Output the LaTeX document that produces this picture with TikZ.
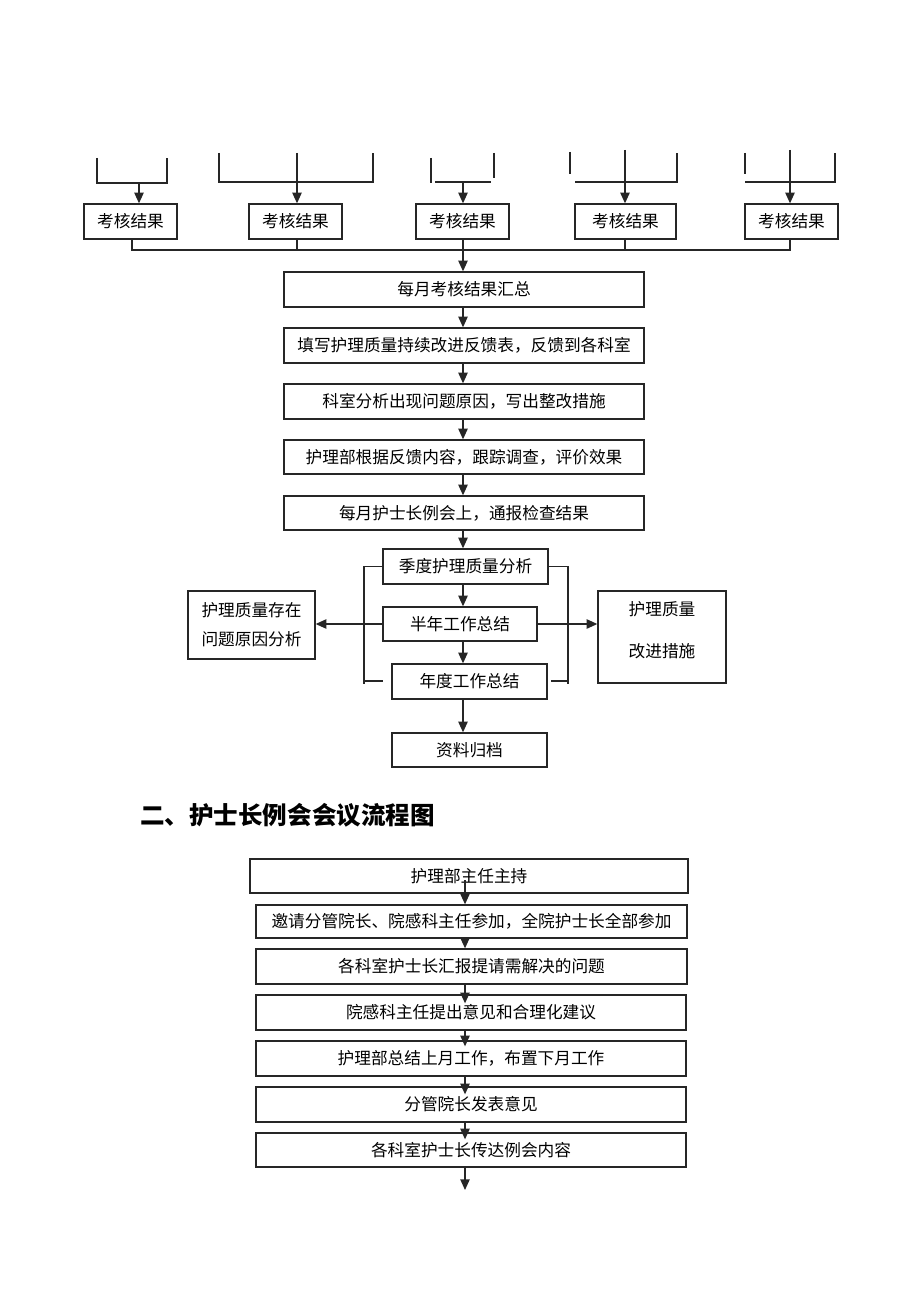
\documentclass[tikz,border=0pt]{standalone}
\usepackage{fontspec}
\setmainfont{Noto Sans CJK SC}
\usetikzlibrary{arrows.meta,calc}
\tikzset{
  ln/.style={draw=black!85, line width=1pt},
  box/.style={ln, inner sep=0pt, align=center, font=\fontsize{12.5pt}{15pt}\selectfont},
  txt/.style={inner sep=0pt, align=center},
  arr/.style={ln, -{Triangle[length=8pt,width=7pt]}},
}
\newcommand\bx[7][]{%
  \pgfmathsetmacro\bw{(#5-#3)*0.75}%
  \pgfmathsetmacro\bh{(#6-#4)*0.75}%
  \node[box, minimum width=\bw pt, minimum height=\bh pt, #1] (#2) at ({(#3+#5)/2},{(#4+#6)/2}) {#7};}
\begin{document}
\begin{tikzpicture}[x=0.75pt,y=-0.75pt]
\useasboundingbox[fill=white] (0,0) rectangle (920,1302);

% ---------- top brackets ----------
\draw[ln] (97,158)--(97,183)--(167,183)--(167,158);
\coordinate (a1) at (139,183);
\draw[ln] (219,153)--(219,182)--(373,182)--(373,153);
\coordinate (a2) at (297,153);
\draw[ln] (431,158)--(431,183);
\draw[ln] (435,182)--(491,182);
\draw[ln] (494,153)--(494,178);
\coordinate (a3) at (463,182);
\draw[ln] (570,152)--(570,174);
\draw[ln] (575,182)--(677,182)--(677,153);
\coordinate (a4) at (625,150);
\draw[ln] (745,153)--(745,174);
\draw[ln] (745,182)--(835,182)--(835,153);
\coordinate (a5) at (790,150);

\bx{k1}{84}{204}{177}{239}{考核结果}
\bx{k2}{249}{204}{342}{239}{考核结果}
\bx{k3}{416}{204}{509}{239}{考核结果}
\bx{k4}{575}{204}{676}{239}{考核结果}
\bx{k5}{745}{204}{838}{239}{考核结果}

\draw[arr] (a1) -- (a1 |- k1.north);
\draw[arr] (a2) -- (a2 |- k2.north);
\draw[arr] (a3) -- (a3 |- k3.north);
\draw[arr] (a4) -- (a4 |- k4.north);
\draw[arr] (a5) -- (a5 |- k5.north);

\coordinate (c1) at (132,239);
\coordinate (c5) at (790,239);
\coordinate (c2) at (297,239);
\coordinate (c4) at (625,239);
\draw[ln] (c1) -- (132,250) -- (790,250) -- (c5);
\draw[ln] (c2) -- (297,250);
\draw[ln] (c4) -- (625,250);

% ---------- main chain ----------
\bx{hz}{284}{272}{644}{307}{每月考核结果汇总}
\bx{f1}{284}{328}{644}{363}{填写护理质量持续改进反馈表，反馈到各科室}
\bx{f2}{284}{384}{644}{419}{科室分析出现问题原因，写出整改措施}
\bx{f3}{284}{440}{644}{474}{护理部根据反馈内容，跟踪调查，评价效果}
\bx{f4}{284}{496}{644}{530}{每月护士长例会上，通报检查结果}

\coordinate (mx) at (463,0);
\draw[arr] (mx |- k3.south) -- (mx |- hz.north);
\draw[arr] (mx |- hz.south) -- (mx |- f1.north);
\draw[arr] (mx |- f1.south) -- (mx |- f2.north);
\draw[arr] (mx |- f2.south) -- (mx |- f3.north);
\draw[arr] (mx |- f3.south) -- (mx |- f4.north);

\bx{j1}{383}{549}{548}{584}{季度护理质量分析}
\bx{j2}{383}{607}{537}{641}{半年工作总结}
\bx{j3}{392}{664}{547}{699}{年度工作总结}
\bx{j4}{392}{733}{547}{767}{资料归档}

\draw[arr] (mx |- f4.south) -- (mx |- j1.north);
\draw[arr] (mx |- j1.south) -- (mx |- j2.north);
\draw[arr] (mx |- j2.south) -- (mx |- j3.north);
\draw[arr] (mx |- j3.south) -- (mx |- j4.north);

% brackets round the three summaries
\draw[ln] (j1.west) -| (364,684);
\draw[ln] (364,681) -- (383,681);
\draw[ln] (j1.east) -| (568,684);
\draw[ln] (551,681) -- (568,681);

\bx[font=\fontsize{12.5pt}{21.5pt}\selectfont]{L}{188}{591}{315}{659}{护理质量存在\\问题原因分析}
\bx{R}{598}{591}{726}{683}{}
\node[txt, font=\fontsize{12.5pt}{31.5pt}\selectfont] (Rt) at ($(R.center)+(0,-7)$) {护理质量\\改进措施};

\draw[arr] (j2.west) -- (j2.west -| L.east);
\draw[arr] (j2.east) -- (j2.east -| R.west);

% ---------- section 2 ----------
\node[txt, anchor=west, font=\fontsize{18.4pt}{20pt}\selectfont\bfseries] (title) at (140,815) {二、护士长例会会议流程图};

\bx{p1}{250}{859}{688}{893}{护理部主任主持}
\bx{p2}{256}{905}{687}{938}{邀请分管院长、院感科主任参加，全院护士长全部参加}
\bx{p3}{256}{949}{687}{984}{各科室护士长汇报提请需解决的问题}
\bx{p4}{256}{995}{686}{1030}{院感科主任提出意见和合理化建议}
\bx{p5}{256}{1041}{686}{1076}{护理部总结上月工作，布置下月工作}
\bx{p6}{256}{1087}{686}{1122}{分管院长发表意见}
\bx{p7}{256}{1133}{686}{1167}{各科室护士长传达例会内容}

\coordinate (bx) at (465,0);
\coordinate (endp) at (465,1190);
\draw[arr] ($(bx |- p1.center)+(0,4)$) -- (bx |- p2.north);
\draw[arr] (bx |- p2.south) -- (bx |- p3.north);
\draw[arr] (bx |- p3.south) -- ($(bx |- p4.north)+(0,9)$);
\draw[arr] (bx |- p4.south) -- ($(bx |- p5.north)+(0,6)$);
\draw[arr] (bx |- p5.south) -- ($(bx |- p6.north)+(0,8)$);
\draw[arr] (bx |- p6.south) -- ($(bx |- p7.north)+(0,7)$);
\draw[arr] (bx |- p7.south) -- (endp);
\end{tikzpicture}
\end{document}
